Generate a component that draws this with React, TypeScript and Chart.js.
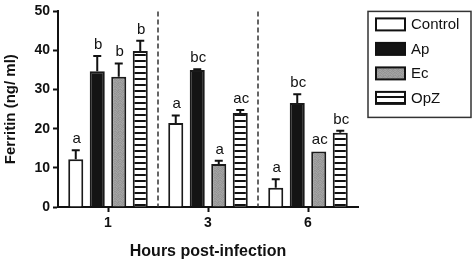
import React, { useEffect, useRef } from "react";
import { Chart, registerables } from "chart.js";

Chart.register(...registerables);

const categories = ["1", "3", "6"];
const seriesNames = ["Control", "Ap", "Ec", "OpZ"];
const controlValues = [12.2, 21.5, 4.9];
const apValues = [34.7, 35.0, 26.6];
const ecValues = [33.3, 11.0, 14.2];
const opzValues = [39.9, 24.0, 19.0];
const controlErr = [2.3, 1.9, 2.2];
const apErr = [3.9, 0.2, 2.2];
const ecErr = [3.4, 0.8, 0];
const opzErr = [2.6, 0.8, 0.5];
const controlLetters = ["a", "a", "a"];
const apLetters = ["b", "bc", "bc"];
const ecLetters = ["b", "a", "ac"];
const opzLetters = ["b", "ac", "bc"];
const yTicks = [0, 10, 20, 30, 40, 50];
const xTitle = "Hours post-infection";
const yTitle = "Ferritin (ng/ ml)";

const FONT = "'Liberation Sans', Arial, sans-serif";

function makeStripe(): CanvasPattern | string {
  const c = document.createElement("canvas");
  c.width = 4;
  c.height = 6;
  const g = c.getContext("2d");
  if (!g) return "#fff";
  g.fillStyle = "#fff";
  g.fillRect(0, 0, 4, 6);
  g.fillStyle = "#111";
  g.fillRect(0, 0, 4, 2);
  return g.createPattern(c, "repeat") || "#fff";
}

function makeStipple(): CanvasPattern | string {
  const c = document.createElement("canvas");
  c.width = 5;
  c.height = 7;
  const g = c.getContext("2d");
  if (!g) return "#999";
  const shades = [
    "#9a9a9a", "#a3a3a3", "#939393", "#a0a0a0", "#979797",
    "#a5a5a5", "#959595", "#9e9e9e", "#919191", "#a2a2a2",
    "#969696", "#a1a1a1", "#9b9b9b", "#a6a6a6", "#949494",
    "#a0a0a0", "#929292", "#a4a4a4", "#989898", "#9d9d9d",
    "#9c9c9c", "#a7a7a7", "#959595", "#9f9f9f", "#a3a3a3",
    "#939393", "#9e9e9e", "#a2a2a2", "#969696", "#999999",
    "#a4a4a4", "#979797", "#9a9a9a", "#919191", "#a1a1a1",
  ];
  for (let i = 0; i < 35; i++) {
    g.fillStyle = shades[i];
    g.fillRect(i % 5, Math.floor(i / 5), 1, 1);
  }
  return g.createPattern(c, "repeat") || "#999";
}

export default function App() {
  const ref = useRef<HTMLCanvasElement>(null);
  useEffect(() => {
    if (!ref.current) return;
    const stripe = makeStripe();
    const stipple = makeStipple();
    const fills = ["#ffffff", "#141414", stipple, stripe];
    const errs = [controlErr, apErr, ecErr, opzErr];
    const letters = [controlLetters, apLetters, ecLetters, opzLetters];
    const values = [controlValues, apValues, ecValues, opzValues];

    const overlay = {
      id: "overlay",
      afterDatasetsDraw(chart: any) {
        const ctx = chart.ctx;
        const area = chart.chartArea;
        const y = chart.scales.y;
        const x = chart.scales.x;
        ctx.save();
        ctx.strokeStyle = "#333";
        ctx.lineWidth = 1.5;
        ctx.setLineDash([5, 3]);
        for (let i = 0; i < categories.length - 1; i++) {
          const px = (x.getPixelForValue(i) + x.getPixelForValue(i + 1)) / 2;
          ctx.beginPath();
          ctx.moveTo(px, area.top);
          ctx.lineTo(px, area.bottom);
          ctx.stroke();
        }
        ctx.setLineDash([]);
        chart.data.datasets.forEach((ds: any, di: number) => {
          const meta = chart.getDatasetMeta(di);
          meta.data.forEach((bar: any, i: number) => {
            const v = values[di][i];
            const e = errs[di][i];
            const top = y.getPixelForValue(v + e);
            if (e > 0) {
              ctx.strokeStyle = "#111";
              ctx.lineWidth = 2;
              ctx.beginPath();
              ctx.moveTo(bar.x, bar.y);
              ctx.lineTo(bar.x, top);
              ctx.moveTo(bar.x - 4, top);
              ctx.lineTo(bar.x + 4, top);
              ctx.stroke();
            }
            ctx.fillStyle = "#111";
            ctx.font = "15px " + FONT;
            ctx.textAlign = "center";
            ctx.textBaseline = "alphabetic";
            ctx.fillText(letters[di][i], bar.x + 1, top - 7);
          });
        });
        const lx = area.right + 10;
        const ly = area.top;
        ctx.strokeStyle = "#333";
        ctx.lineWidth = 1.5;
        ctx.strokeRect(lx, ly, 103, 106);
        seriesNames.forEach((name, i) => {
          const sy = ly + 7 + i * 24.5;
          ctx.fillStyle = fills[i];
          ctx.fillRect(lx + 8, sy, 29, 12);
          ctx.strokeStyle = "#111";
          ctx.lineWidth = 2;
          ctx.strokeRect(lx + 8, sy, 29, 12);
          ctx.fillStyle = "#111";
          ctx.font = "15px " + FONT;
          ctx.textAlign = "left";
          ctx.textBaseline = "middle";
          ctx.fillText(name, lx + 43, sy + 6.5);
        });
        ctx.restore();
      },
    };

    const chart = new Chart(ref.current, {
      type: "bar",
      data: {
        labels: categories,
        datasets: seriesNames.map((name, i) => ({
          label: name,
          data: values[i],
          backgroundColor: fills[i] as any,
          borderColor: "#1a1a1a",
          borderWidth: 2,
          borderSkipped: "bottom",
          barPercentage: 0.7,
          categoryPercentage: 0.86,
        })),
      },
      options: {
        animation: false,
        responsive: false,
        maintainAspectRatio: false,
        layout: { padding: { left: 0, right: 117, top: 10, bottom: 0 } },
        plugins: {
          legend: { display: false },
          tooltip: { enabled: false },
        },
        scales: {
          x: {
            offset: true,
            grid: {
              offset: false,
              drawOnChartArea: false,
              drawTicks: true,
              tickLength: 5,
              tickWidth: 2,
              tickColor: "#111",
            },
            border: { display: true, color: "#111", width: 2 },
            ticks: {
              color: "#111",
              padding: 3,
              font: { family: FONT, size: 14, weight: "bold" },
            },
            title: {
              display: true,
              text: xTitle,
              color: "#111",
              padding: { top: 4, bottom: 2 },
              font: { family: FONT, size: 16, weight: "bold" },
            },
            afterFit(scale: any) {
              scale.height = 56;
            },
          },
          y: {
            min: 0,
            max: 50,
            afterBuildTicks(scale: any) {
              scale.ticks = yTicks.map((v) => ({ value: v }));
            },
            grid: {
              drawOnChartArea: false,
              drawTicks: true,
              tickLength: 5,
              tickWidth: 2,
              tickColor: "#111",
            },
            border: { display: true, color: "#111", width: 2 },
            ticks: {
              color: "#111",
              padding: 3,
              font: { family: FONT, size: 14, weight: "bold" },
            },
            title: {
              display: true,
              text: yTitle,
              color: "#111",
              padding: { top: 2, bottom: 2 },
              font: { family: FONT, size: 15, weight: "bold" },
            },
            afterFit(scale: any) {
              scale.width = 58;
            },
          },
        },
      },
      plugins: [overlay],
    });
    return () => chart.destroy();
  }, []);
  return (
    <div style={{ position: "absolute", left: 0, top: 0, width: 475, height: 263, background: "#fff" }}>
      <canvas ref={ref} width={475} height={263} style={{ width: 475, height: 263 }} />
    </div>
  );
}
